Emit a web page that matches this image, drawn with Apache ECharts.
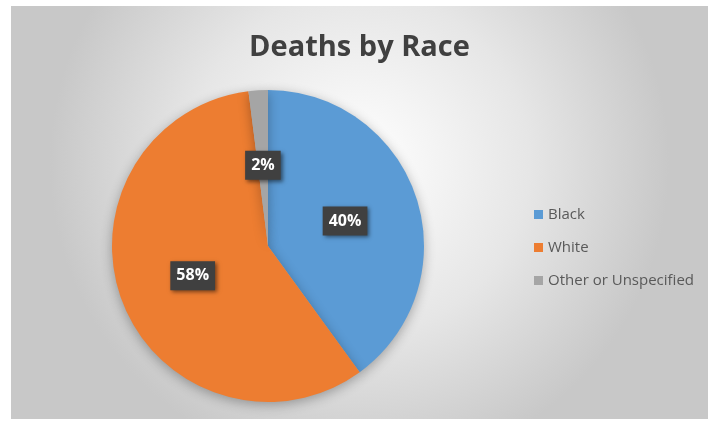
<!DOCTYPE html>
<html>
<head>
<meta charset="utf-8">
<script src="https://cdn.jsdelivr.net/npm/echarts@6/dist/echarts.min.js"></script>
<style>
html,body{margin:0;padding:0;background:#fff;}
#c{position:absolute;left:11px;top:6px;width:697px;height:413px;}
</style>
</head>
<body>
<div id="c"></div>
<script>
const titleText = "Deaths by Race";
const categories = ["Black", "White", "Other or Unspecified"];
const values = [40, 58, 2];
const colors = ["#5B9BD5", "#ED7D31", "#A5A5A5"];

const chart = echarts.init(document.getElementById('c'));
chart.setOption({
  backgroundColor: {
    type: 'radial', x: 0.5, y: 0.38, r: 0.75,
    colorStops: [
      {offset: 0, color: '#ffffff'},
      {offset: 0.55, color: '#e6e6e6'},
      {offset: 1, color: '#c8c8c8'}
    ]
  },
  title: {
    text: titleText,
    left: 'center',
    top: 22,
    textStyle: {fontFamily: 'Open Sans', fontWeight: 'bold', fontSize: 29, color: '#404040'}
  },
  legend: {
    orient: 'vertical',
    left: 518,
    top: 196,
    icon: 'rect',
    itemWidth: 9,
    itemHeight: 9,
    itemGap: 18,
    textStyle: {fontFamily: 'Open Sans', fontSize: 15, color: '#595959'},
    data: categories
  },
  series: [{
    type: 'pie',
    center: [257, 240],
    radius: 156,
    startAngle: 90,
    clockwise: true,
    percentPrecision: 0,
    animation: false,
    silent: true,
    itemStyle: {shadowBlur: 12, shadowColor: 'rgba(0,0,0,0.3)', shadowOffsetY: 3},
    label: {
      show: true,
      position: 'inside',
      formatter: '{d}%',
      fontFamily: 'Open Sans',
      fontWeight: 'bold',
      fontSize: 16,
      lineHeight: 16,
      color: '#ffffff',
      backgroundColor: '#404040',
      padding: [7, 6, 6, 6],
      shadowBlur: 4,
      shadowColor: 'rgba(0,0,0,0.5)',
      shadowOffsetX: 2,
      shadowOffsetY: 2
    },
    labelLine: {show: false},
    data: categories.map((n, i) => ({name: n, value: values[i], itemStyle: {color: colors[i]}}))
  }]
});
</script>
</body>
</html>
